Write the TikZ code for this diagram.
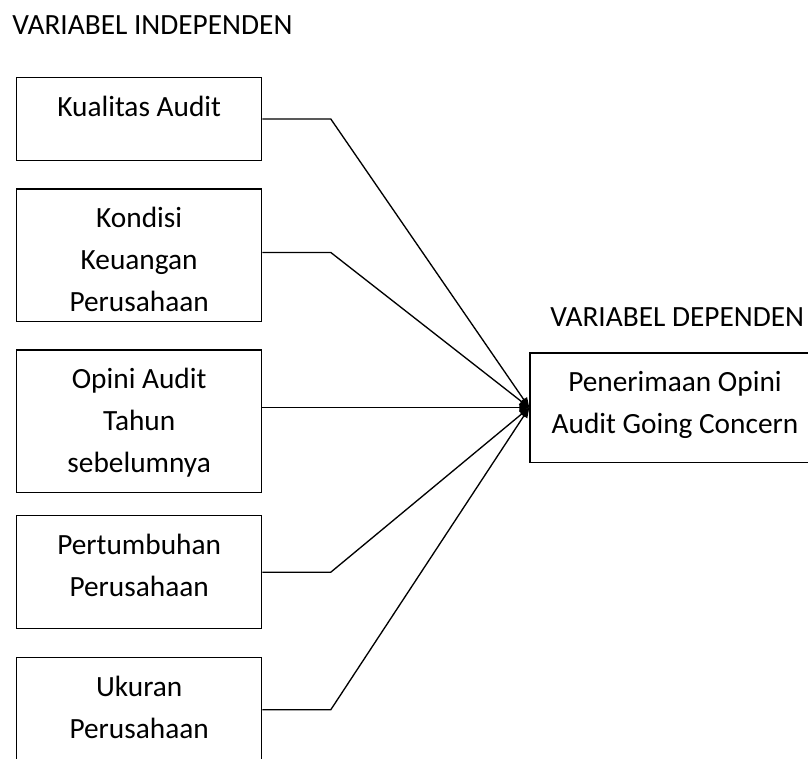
\documentclass[tikz,border=0pt]{standalone}
\usepackage{fontspec}
\setmainfont{Carlito}
\usetikzlibrary{arrows.meta,positioning}

\begin{document}
\begin{tikzpicture}[
    x=0.75pt, y=-0.75pt,
    font=\fontsize{22}{31.5}\selectfont,
    box/.style={draw, line width=1pt, anchor=north west,
      minimum width=183.75pt, inner sep=0pt},
    lbl/.style={align=center, inner sep=0pt},
    title/.style={anchor=west, inner sep=0pt},
    arrow/.style={-{Triangle[length=7.5pt, width=6pt]}, line width=1pt}
  ]
  \useasboundingbox (0,0) rectangle (808,758);

  \node[title] (indep) at (12,24.7) {VARIABEL INDEPENDEN};
  \node[title] (depen) at (550,317.3) {VARIABEL DEPENDEN};

  % independent variables
  \node[box, minimum height=62.5pt] (b1) at (16,76.7) {};
  \node[lbl, below=14.25pt of b1.north] (t1) {Kualitas Audit};

  \node[box, minimum height=99.3pt] (b2) at (16,188.3) {};
  \node[lbl, below=14.25pt of b2.north] (t2) {Kondisi\\Keuangan\\Perusahaan};

  \node[box, minimum height=106.8pt] (b3) at (16,349.3) {};
  \node[lbl, below=14.25pt of b3.north] (t3) {Opini Audit\\Tahun\\sebelumnya};

  \node[box, minimum height=84.75pt] (b4) at (16,515) {};
  \node[lbl, below=14.25pt of b4.north] (t4) {Pertumbuhan\\Perusahaan};

  \node[box, minimum height=78pt] (b5) at (16,657) {};
  \node[lbl, below=14.25pt of b5.north] (t5) {Ukuran\\Perusahaan};

  % dependent variable
  \node[box, minimum width=217.5pt, minimum height=82pt] (dep) at (529.3,352.3) {};
  \node[lbl, below=14.25pt of dep.north] (td) {Penerimaan Opini\\Audit Going Concern};

  \draw[arrow] (b1.east) -- ++(68.5,0) -- (dep.west);
  \draw[arrow] ([yshift=2pt]b2.east) -- ++(68.5,0) -- (dep.west);
  \draw[arrow] (b3.east |- dep.west) -- (dep.west);
  \draw[arrow] (b4.east) -- ++(68.5,0) -- (dep.west);
  \draw[arrow] (b5.east) -- ++(68.5,0) -- (dep.west);
\end{tikzpicture}
\end{document}
